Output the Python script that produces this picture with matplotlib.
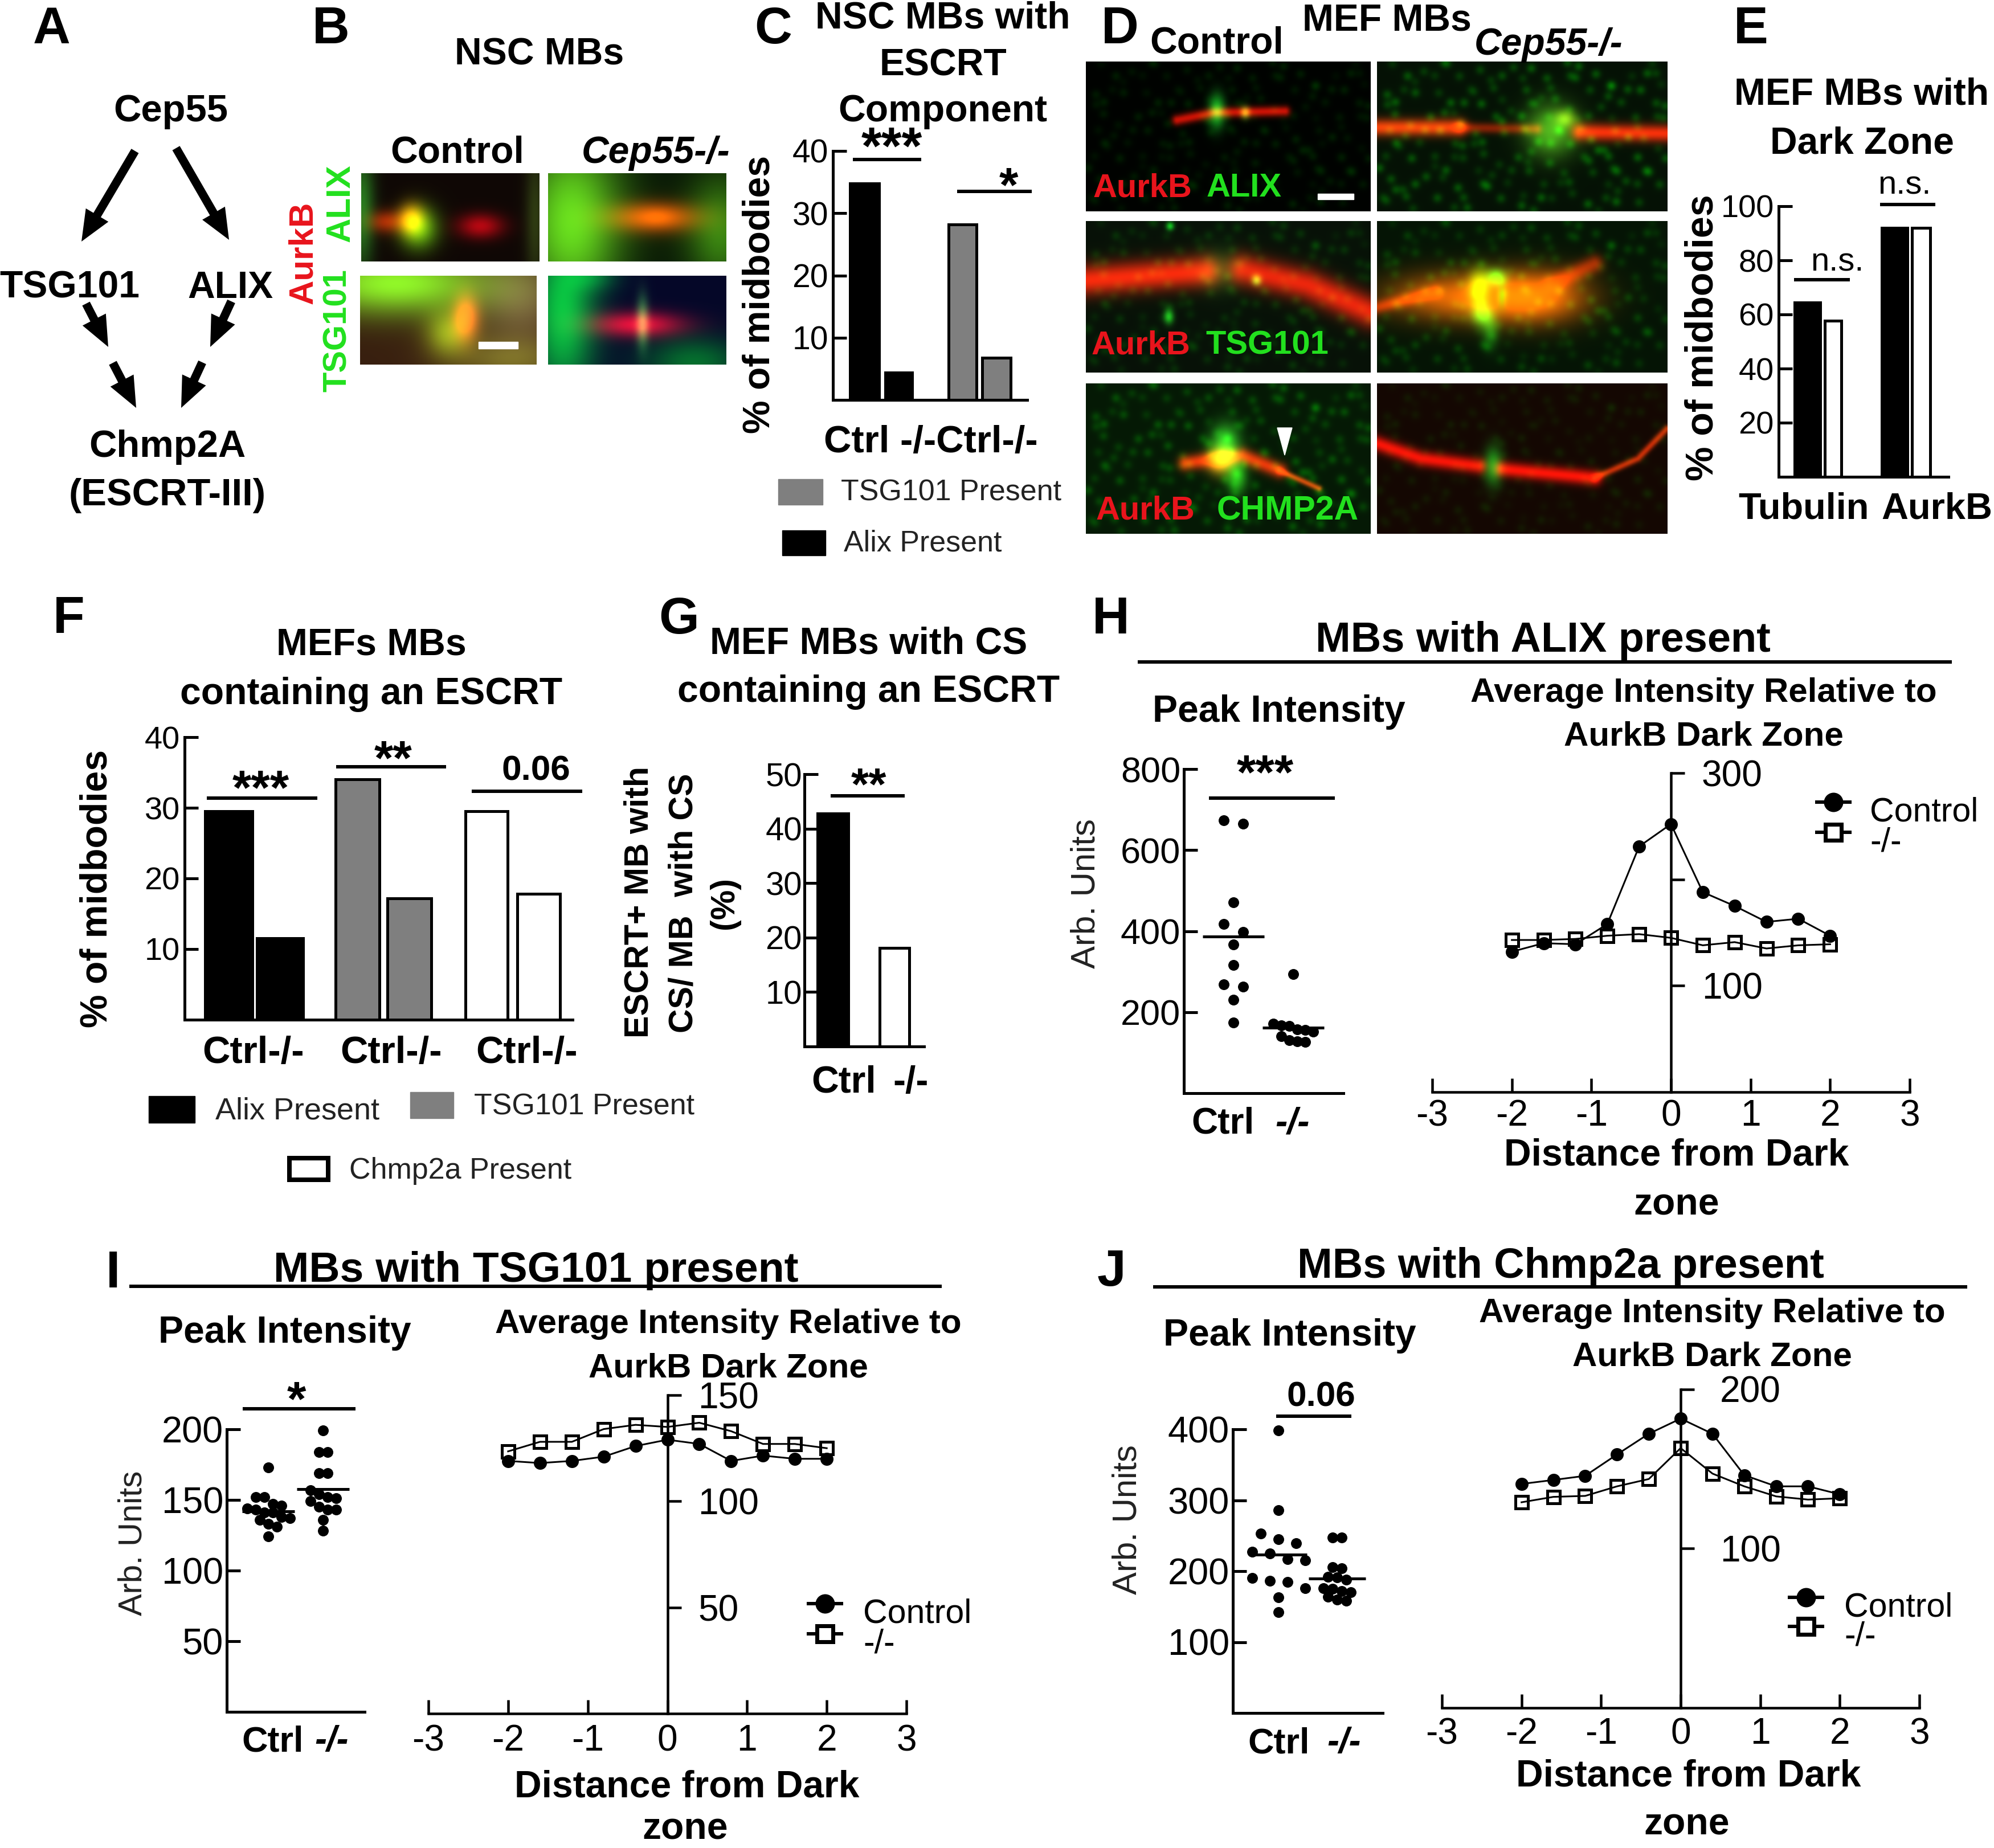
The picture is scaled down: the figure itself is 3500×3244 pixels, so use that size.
import numpy as np
import matplotlib
matplotlib.use("Agg")
import matplotlib.pyplot as plt
from matplotlib.patches import FancyArrow, Rectangle, Polygon

plt.rcParams['font.family'] = ['Liberation Sans', 'DejaVu Sans']
plt.rcParams['axes.unicode_minus'] = False
W, H = 3500, 3244
PX = 0.72  # px -> pt at dpi 100

# ---------------- data ----------------
c_vals = [34.8, 4.4, 28.2, 6.8]
e_vals = [64.4, 57.7, 91.9, 91.9]
f_vals = [29.5, 11.5, 34.0, 17.2, 29.5, 17.8]
g_vals = [42.8, 18.1]

dist = [-2, -1.6, -1.2, -0.8, -0.4, 0, 0.4, 0.8, 1.2, 1.6, 2]

h_ctrl_pts = [674, 665, 471, 418, 398, 367, 316, 268, 263, 230, 174]
h_ko_pts = [294, 171, 168, 166, 158, 156, 152, 141, 131, 128, 126]
h_means = [386, 161]
h_ctrl_line = [132, 140, 139, 158, 231, 252, 188, 175, 160, 163, 147]
h_ko_line = [143, 143, 144, 147, 148.5, 145, 138, 141, 135, 138, 139]

i_ctrl_pts = [173, 152, 152, 147, 146, 144, 143, 141, 141, 138, 137, 136, 133, 131, 124]
i_ko_pts = [199, 184, 184, 169, 169, 157, 154, 152, 151, 149, 145, 143, 143, 136, 128]
i_means = [142, 157.7]
i_ctrl_line = [119, 118, 119, 121, 126, 129, 127, 119, 121.5, 120, 120]
i_ko_line = [123.5, 128, 128, 134, 136, 135, 137, 133, 127, 127, 125]

j_ctrl_pts = [398, 286, 253, 245, 239, 227, 225, 217, 215, 190, 186, 185, 176, 163, 142]
j_ko_pts = [247, 247, 206, 204, 192, 191, 188, 176, 175, 172, 170, 164, 160, 158]
j_means = [223.5, 189.6]
j_ctrl_line = [140.5, 143, 145.6, 159, 172, 181.5, 172, 146, 139, 139, 134]
j_ko_line = [129, 132.4, 133, 139, 143.6, 163, 147, 139, 132.7, 130.7, 131.5]

GRAY = '#7f7f7f'
RED = '#e8141c'
GREEN = '#22e01e'

fig = plt.figure(figsize=(W / 100, H / 100), dpi=100, facecolor='white')
ov = fig.add_axes([0, 0, 1, 1], zorder=5)
ov.patch.set_alpha(0)
ov.axis('off')


def T(x, y, s, size=66, weight='bold', style='normal', color='black', rot=0, ha='center', va='center'):
    # x, y = visual centre of the capitals
    if rot:
        x += 0.06 * size
    else:
        y += 0.06 * size
    ov.text(x, y, s, fontsize=size * PX, fontweight=weight, fontstyle=style, color=color,
            rotation=rot, ha=ha, va=va, rotation_mode='anchor' if rot else 'default')


def STAR(x, y, s, size=86):
    ov.text(x, y + 0.19 * size, s, fontsize=size * PX, fontweight='bold', ha='center', va='center')


def L(x0, x1, y, lw=6):
    ov.plot([x0, x1], [y, y], color='black', lw=lw * PX, solid_capstyle='butt')


def box_axes(x0, x1, ytop, ybot, ylim, xlim=None):
    ax = fig.add_axes([x0 / W, 1 - ybot / H, (x1 - x0) / W, (ybot - ytop) / H], zorder=3)
    ax.patch.set_alpha(0)
    ax.set_xlim(xlim if xlim else (x0, x1))
    ax.set_ylim(*ylim)
    return ax


def style_y(ax, ticks, size, pad=8, lw=5):
    for s in ('top', 'right'):
        ax.spines[s].set_visible(False)
    for s in ('left', 'bottom'):
        ax.spines[s].set_linewidth(lw * PX)
    ax.set_xticks([])
    ax.set_yticks(ticks)
    ax.tick_params(axis='y', direction='in', length=24 * PX, width=lw * PX, pad=pad * PX, labelsize=size * PX)


def bars(ax, lefts, rights, vals, faces, lw=5):
    xs = [(a + b) / 2 for a, b in zip(lefts, rights)]
    ws = [b - a - lw for a, b in zip(lefts, rights)]
    ax.bar(xs, vals, width=ws, color=faces, edgecolor='black', linewidth=lw * PX, clip_on=False)


def swarm(vals, bin_size, dx):
    """Prism-style placement: values that share a bin are spread symmetrically."""
    v = sorted(vals, reverse=True)
    xs, ys, group = [], [], []

    def flush(g):
        n = len(g)
        for i, val in enumerate(g):
            xs.append((i - (n - 1) / 2) * dx)
            ys.append(val)
    for val in v:
        if group and group[0] - val >= bin_size:
            flush(group)
            group = []
        group.append(val)
    flush(group)
    return np.array(xs), np.array(ys)


def peak_panel(box, ylim, ticks, centers, ctrl, ko, means, bins, dxs, size, halfw=52):
    ax = box_axes(*box, ylim)
    style_y(ax, ticks, size, pad=6, lw=5)
    for c, pts, m, b, d in zip(centers, (ctrl, ko), means, bins, dxs):
        xo, yv = swarm(pts, b, d)
        ax.plot(c + xo, yv, 'o', color='black', ms=19 * PX, mew=0, clip_on=False)
        ax.plot([c - halfw, c + halfw], [m, m], color='black', lw=5 * PX, solid_capstyle='butt')
    return ax


def line_panel(box, ymax, yticks, ylabels, ctrl, ko, size=64, pad=30, xpad=8):
    ax = box_axes(box[0], box[1], box[2], box[3], (0, ymax), xlim=(-3, 3))
    ax.spines['top'].set_visible(False)
    ax.spines['left'].set_visible(False)
    ax.spines['right'].set_position(('data', 0))
    ax.spines['right'].set_linewidth(4.5 * PX)
    ax.spines['bottom'].set_linewidth(4.5 * PX)
    ax.set_xticks([-3, -2, -1, 0, 1, 2, 3])
    ax.tick_params(axis='x', direction='in', length=24 * PX, width=4.5 * PX, labelsize=size * PX, pad=xpad * PX)
    ax.yaxis.tick_right()
    ax.set_yticks(yticks)
    ax.set_yticklabels(ylabels)
    ax.tick_params(axis='y', direction='out', length=24 * PX, width=4.5 * PX, labelsize=size * PX, pad=pad * PX)
    ax.plot(dist, ctrl, '-o', color='black', lw=3 * PX, ms=23 * PX, mew=0, clip_on=False)
    ax.plot(dist, ko, '-s', color='black', lw=3 * PX, ms=22 * PX, mew=5 * PX, mfc='none', clip_on=False)
    return ax


def line_legend(x, y1, y2, tx):
    ov.plot([x - 32, x + 32], [y1, y1], color='black', lw=6 * PX, solid_capstyle='butt')
    ov.plot([x], [y1], 'o', color='black', ms=34 * PX, mew=0)
    ov.plot([x - 32, x + 32], [y2, y2], color='black', lw=6 * PX, solid_capstyle='butt')
    ov.plot([x], [y2], 's', mfc='white', mec='black', ms=28 * PX, mew=7 * PX)
    T(tx, y1 + 14, 'Control', size=59, weight='normal', ha='left')
    T(tx, y2 + 14, '-/-', size=59, weight='normal', ha='left')


# ---------------- micrograph helper (blurred stand-ins, deterministic) ----------------
def micrograph(box, bg, blobs=(), lines=(), speckle=0.0):
    x0, x1, y0, y1 = box
    nx, ny = int((x1 - x0) / 2), int((y1 - y0) / 2)
    asp = (x1 - x0) / (y1 - y0)
    X, Y = np.meshgrid(np.linspace(0, 1, nx), np.linspace(0, 1, ny))
    img = np.ones((ny, nx, 3)) * np.array(bg, float)
    for (cx, cy, sx, sy, col) in blobs:
        g = np.exp(-((X - cx) ** 2 / (2 * sx ** 2) + (Y - cy) ** 2 / (2 * sy ** 2)))
        img += g[..., None] * np.array(col, float)
    for pts, wid, col in lines:
        d = np.full(X.shape, 1e9)
        for (a, b), (c, e) in zip(pts[:-1], pts[1:]):
            ax_, ay_ = a * asp, b
            bx_, by_ = c * asp, e
            px_, py_ = X * asp, Y
            t = np.clip(((px_ - ax_) * (bx_ - ax_) + (py_ - ay_) * (by_ - ay_)) /
                        ((bx_ - ax_) ** 2 + (by_ - ay_) ** 2), 0, 1)
            d = np.minimum(d, np.hypot(px_ - ax_ - t * (bx_ - ax_), py_ - ay_ - t * (by_ - ay_)))
        img += np.exp(-d ** 2 / (2 * wid ** 2))[..., None] * np.array(col, float)
    if speckle:
        # soft dots on a low-discrepancy sequence
        tex = np.zeros(X.shape)
        for k in range(1, 170):
            cx = (k * 0.7548777 + 0.03 * np.sin(k * 1.7)) % 1
            cy = (k * 0.5698403 + 0.03 * np.sin(k * 2.3)) % 1
            amp = 0.35 + 0.65 * ((k * 0.6180339) % 1)
            tex += amp * np.exp(-((X - cx) ** 2 * asp ** 2 + (Y - cy) ** 2) / (2 * 0.022 ** 2))
        img[..., 1] += speckle * tex
    ov.imshow(np.clip(img, 0, 1), extent=(x0, x1, y1, y0), aspect='auto', interpolation='bilinear', zorder=0)


# Panel B images
micrograph((634, 947, 304, 459), (0.06, 0.03, 0.02),
           [(0.0, 0.4, 0.05, 0.5, (0.1, 0.45, 0.1)), (0.32, 0.62, 0.075, 0.17, (0.35, 0.75, 0.05)),
            (0.28, 0.52, 0.05, 0.12, (0.8, 0.4, 0.0)), (0.14, 0.55, 0.07, 0.09, (0.6, 0.12, 0.0)),
            (0.67, 0.6, 0.09, 0.1, (0.65, 0.0, 0.05)), (0.98, 0.5, 0.04, 0.6, (0.12, 0.2, 0.05))])
micrograph((962, 1275, 304, 459), (0.03, 0.08, 0.02),
           [(0.13, 0.55, 0.2, 0.7, (0.38, 0.8, 0.1)), (0.97, 0.65, 0.14, 0.45, (0.2, 0.45, 0.05)),
            (0.6, 0.5, 0.17, 0.12, (0.9, 0.22, 0.0)), (0.62, 0.5, 0.07, 0.08, (0.1, 0.1, 0.0))])
micrograph((632, 942, 484, 640), (0.22, 0.12, 0.06),
           [(0.2, 0.08, 0.38, 0.25, (0.35, 0.85, 0.1)), (0.92, 0.25, 0.18, 0.35, (0.25, 0.25, 0.18)),
            (0.85, 0.95, 0.25, 0.2, (0.25, 0.3, 0.08)), (0.5, 0.65, 0.09, 0.18, (0.35, 0.5, 0.05)),
            (0.6, 0.47, 0.05, 0.17, (0.8, 0.2, 0.05))])
micrograph((962, 1275, 484, 640), (0.02, 0.03, 0.16),
           [(0.08, 0.4, 0.13, 0.7, (0.02, 0.75, 0.1)), (0.25, 0.0, 0.1, 0.12, (0.0, 0.3, 0.05)),
            (0.82, 0.98, 0.2, 0.2, (0.0, 0.4, 0.02)), (0.5, 0.55, 0.18, 0.1, (0.9, 0.02, 0.08)),
            (0.53, 0.52, 0.025, 0.2, (0.2, 0.55, 0.15))])
ov.add_patch(Rectangle((840, 600), 69, 12, color='white', zorder=1))

# Panel D images
dbox = [(1906, 2406, 108, 371), (2417, 2927, 108, 371), (1906, 2406, 388, 654),
        (2417, 2927, 388, 654), (1906, 2406, 673, 937), (2417, 2927, 673, 937)]
micrograph(dbox[0], (0, 0.01, 0),
           [(0.46, 0.33, 0.02, 0.08, (0.1, 0.75, 0.15)), (0.56, 0.34, 0.012, 0.03, (0.3, 0.6, 0.1))],
           [([(0.32, 0.39), (0.45, 0.34), (0.7, 0.33)], 0.024, (0.8, 0.06, 0.02))], 0.1)
micrograph(dbox[1], (0.02, 0.07, 0.02),
           [(0.6, 0.46, 0.06, 0.12, (0.3, 0.65, 0.1)), (0.65, 0.38, 0.025, 0.04, (0.4, 0.5, 0.05))],
           [([(0.0, 0.44), (0.28, 0.44)], 0.04, (0.95, 0.2, 0.02)), ([(0.28, 0.44), (0.55, 0.45)], 0.025, (0.5, 0.06, 0.0)),
            ([(0.7, 0.47), (1.0, 0.48)], 0.04, (0.95, 0.12, 0.02))], 0.25)
micrograph(dbox[2], (0.03, 0.07, 0.03),
           [(0.47, 0.32, 0.05, 0.1, (0.05, 0.22, 0.05)), (0.6, 0.39, 0.012, 0.025, (0.2, 0.7, 0.1)),
            (0.295, 0.03, 0.01, 0.02, (0.05, 0.7, 0.1)), (0.29, 0.63, 0.012, 0.035, (0.1, 0.65, 0.1))],
           [([(0.0, 0.39), (0.42, 0.33)], 0.07, (0.95, 0.1, 0.02)), ([(0.55, 0.32), (0.78, 0.42), (1.0, 0.6)], 0.07, (0.9, 0.08, 0.02))], 0.12)
micrograph(dbox[3], (0.02, 0.08, 0.02),
           [(0.3, 0.5, 0.18, 0.11, (0.9, 0.35, 0.0)), (0.55, 0.5, 0.12, 0.12, (0.9, 0.35, 0.0)),
            (0.35, 0.43, 0.025, 0.08, (0.35, 0.7, 0.0)), (0.41, 0.37, 0.025, 0.04, (0.1, 0.75, 0.1)),
            (0.36, 0.62, 0.025, 0.05, (0.1, 0.7, 0.1)), (0.39, 0.72, 0.02, 0.08, (0.05, 0.4, 0.05)),
            (0.43, 0.5, 0.012, 0.05, (-0.4, 0.3, 0.0))],
           [([(0.0, 0.57), (0.2, 0.47)], 0.03, (0.6, 0.1, 0.0)), ([(0.6, 0.42), (0.75, 0.28)], 0.04, (0.6, 0.1, 0.0))], 0.15)
micrograph(dbox[4], (0.02, 0.1, 0.02),
           [(0.49, 0.4, 0.035, 0.09, (0.2, 0.75, 0.15)), (0.53, 0.62, 0.025, 0.08, (0.15, 0.65, 0.1)),
            (0.47, 0.52, 0.03, 0.06, (0.9, 0.55, 0.05))],
           [([(0.35, 0.53), (0.55, 0.48), (0.68, 0.58)], 0.035, (0.9, 0.12, 0.02)), ([(0.68, 0.58), (0.82, 0.7)], 0.014, (0.8, 0.2, 0.03))], 0.2)
micrograph(dbox[5], (0.08, 0.03, 0.01),
           [(0.4, 0.55, 0.022, 0.09, (0.05, 0.6, 0.1))],
           [([(0.0, 0.4), (0.15, 0.5), (0.35, 0.55)], 0.035, (0.9, 0.05, 0.02)), ([(0.43, 0.57), (0.75, 0.63)], 0.035, (0.92, 0.05, 0.02)),
            ([(0.75, 0.63), (0.9, 0.5), (1.0, 0.3)], 0.016, (0.7, 0.15, 0.02))], 0.07)
ov.add_patch(Rectangle((2313, 340), 63, 10, color='white', zorder=1))
ov.add_patch(Polygon([(2242, 751), (2268, 751), (2255, 799)], color='white', zorder=1))

# Panel letters
for s, x, y in [('A', 91, 47), ('B', 581, 47), ('C', 1357, 47), ('D', 1966, 47), ('E', 3073, 47),
                ('F', 121, 1082), ('G', 1192, 1083), ('H', 1950, 1083), ('I', 198, 2231), ('J', 1951, 2228)]:
    T(x, y, s, size=91)

# Panel A
T(300, 192, 'Cep55', size=67)
T(122, 502, 'TSG101', size=66)
T(404, 502, 'ALIX', size=66)
T(294, 781, 'Chmp2A', size=67)
T(294, 866, '(ESCRT-III)', size=67)
for (a, b), (c, d) in [((237, 265), (143, 424)), ((309, 260), (402, 421)), ((151, 533), (190, 609)),
                       ((406, 529), (369, 609)), ((198, 637), (239, 716)), ((355, 636), (318, 716))]:
    ov.add_patch(FancyArrow(a, b, c - a, d - b, width=15, head_width=46, head_length=54,
                            length_includes_head=True, color='black', lw=0))

# Panel B text
T(947, 93, 'NSC MBs', size=66)
T(803, 265, 'Control', size=66)
T(1151, 265, 'Cep55-/-', size=66, style='italic')
T(529, 444, 'AurkB', size=60, color=RED, rot=90)
T(594, 357, 'ALIX', size=60, color=GREEN, rot=90)
T(589, 580, 'TSG101', size=58, color=GREEN, rot=90)

# Panel C
for y, s in [(29, 'NSC MBs with'), (112, 'ESCRT'), (192, 'Component')]:
    T(1655, y, s, size=66)
axc = box_axes(1462, 1803, 265, 702, (0, 40))
style_y(axc, [10, 20, 30, 40], 57)
bars(axc, [1489, 1551, 1662, 1721], [1545, 1603, 1716, 1776], c_vals, ['black', 'black', GRAY, GRAY])
T(1330, 517, '% of midbodies', size=66, rot=90)
T(1634, 773, 'Ctrl -/-Ctrl-/-', size=67)
STAR(1565, 246, '***', 92)
L(1497, 1617, 280)
STAR(1770, 315, '*', 86)
L(1680, 1811, 336)
ov.add_patch(Rectangle((1366, 841), 78, 45, color=GRAY))
T(1476, 862, 'TSG101 Present', size=52, weight='normal', ha='left', color='#222222')
ov.add_patch(Rectangle((1373, 931), 76, 44, color='black'))
T(1481, 951, 'Alix Present', size=52, weight='normal', ha='left', color='#222222')

# Panel D text
T(2136, 73, 'Control', size=66)
T(2434, 33, 'MEF MBs', size=66)
T(2718, 75, 'Cep55-/-', size=66, style='italic')
T(1919, 327, 'AurkB', size=58, color=RED, ha='left')
T(2118, 327, 'ALIX', size=58, color=GREEN, ha='left')
T(1916, 603, 'AurkB', size=58, color=RED, ha='left')
T(2116, 603, 'TSG101', size=58, color=GREEN, ha='left')
T(1924, 893, 'AurkB', size=58, color=RED, ha='left')
T(2136, 893, 'CHMP2A', size=59, color=GREEN, ha='left')

# Panel E
T(3268, 163, 'MEF MBs with', size=66)
T(3268, 249, 'Dark Zone', size=66)
axe = box_axes(3122, 3420, 362, 837, (0, 100))
style_y(axe, [20, 40, 60, 80, 100], 56)
bars(axe, [3147, 3200, 3300, 3353], [3197, 3234, 3350, 3390], e_vals, ['black', 'white', 'black', 'white'])
T(2984, 593, '% of midbodies', size=68, rot=90)
T(3166, 890, 'Tubulin', size=65)
T(3400, 890, 'AurkB', size=65)
T(3225, 457, 'n.s.', size=58, weight='normal')
L(3149, 3247, 491)
T(3343, 322, 'n.s.', size=58, weight='normal')
L(3300, 3397, 359)

# Panel F
T(652, 1129, 'MEFs MBs', size=66)
T(652, 1215, 'containing an ESCRT', size=66)
axf = box_axes(324, 1005, 1294, 1790, (0, 40))
style_y(axf, [10, 20, 30, 40], 56)
bars(axf, [357, 448, 586, 677, 814, 905], [445, 534, 668, 759, 893, 985], f_vals,
     ['black', 'black', GRAY, GRAY, 'white', 'white'])
T(167, 1560, '% of midbodies', size=66, rot=90)
for x in (444, 687, 924):
    T(x, 1845, 'Ctrl-/-', size=67)
STAR(458, 1373, '***')
L(363, 557, 1401)
STAR(690, 1321, '**')
L(590, 783, 1346)
T(941, 1350, '0.06', size=62)
L(828, 1022, 1389)
ov.add_patch(Rectangle((261, 1924), 81, 47, color='black'))
T(378, 1947, 'Alix Present', size=54, weight='normal', ha='left', color='#222222')
ov.add_patch(Rectangle((720, 1917), 76, 46, color=GRAY))
T(832, 1940, 'TSG101 Present', size=52, weight='normal', ha='left', color='#222222')
ov.add_patch(Rectangle((508, 2033), 68, 38, facecolor='white', edgecolor='black', lw=8 * PX))
T(613, 2052, 'Chmp2a Present', size=52, weight='normal', ha='left', color='#222222')

# Panel G
T(1525, 1127, 'MEF MBs with CS', size=66)
T(1525, 1211, 'containing an ESCRT', size=66)
axg = box_axes(1412, 1622, 1359, 1837, (0, 50))
style_y(axg, [10, 20, 30, 40, 50], 58, pad=4)
bars(axg, [1433, 1542], [1492, 1599], g_vals, ['black', 'white'])
T(1118, 1584, 'ESCRT+ MB with', size=59, rot=90)
T(1196, 1585, 'CS/ MB  with CS', size=59, rot=90)
T(1268, 1585, '(%)', size=59, rot=90)
T(1481, 1897, 'Ctrl', size=66)
T(1599, 1897, '-/-', size=66)
STAR(1525, 1368, '**', 80)
L(1458, 1588, 1397)

# Panel H
T(2708, 1120, 'MBs with ALIX present', size=74)
L(1997, 3426, 1162)
T(2245, 1246, 'Peak Intensity', size=66)
peak_panel((2078, 2358, 1350, 1919), (0, 800), [200, 400, 600, 800], (2165, 2270), h_ctrl_pts, h_ko_pts,
           h_means, (25, 25), (34, 14), 63, halfw=54)
T(1902, 1569, 'Arb. Units', size=60, weight='normal', rot=90, color='#222222')
STAR(2221, 1346, '***')
L(2122, 2343, 1401)
T(2147, 1969, 'Ctrl', size=64)
T(2268, 1969, '-/-', size=64, style='italic')
T(2990, 1213, 'Average Intensity Relative to', size=60)
T(2990, 1289, 'AurkB Dark Zone', size=60)
line_panel((2514, 3352, 1357, 1917), 300, [100, 200, 300], ['100', '', '300'], h_ctrl_line, h_ko_line, xpad=12)
line_legend(3218, 1408, 1461, 3282)
T(2943, 2025, 'Distance from Dark', size=66)
T(2943, 2112, 'zone', size=66)

# Panel I
T(941, 2226, 'MBs with TSG101 present', size=75)
L(227, 1653, 2258)
T(500, 2336, 'Peak Intensity', size=66)
peak_panel((398, 640, 2509, 3004.5), (0, 200), [50, 100, 150, 200], (471, 567), i_ctrl_pts, i_ko_pts,
           i_means, (8, 8), (15, 15), 65, halfw=46)
T(230, 2709, 'Arb. Units', size=58, weight='normal', rot=90, color='#222222')
STAR(520, 2446, '*')
L(426, 624, 2473)
T(479, 3054, 'Ctrl', size=63)
T(582, 3054, '-/-', size=63, style='italic')
T(1278, 2321, 'Average Intensity Relative to', size=60)
T(1278, 2398, 'AurkB Dark Zone', size=60)
line_panel((752, 1591, 2449, 3008), 150, [50, 100, 150], ['50', '100', '150'], i_ctrl_line, i_ko_line, xpad=18)
line_legend(1448, 2815, 2868, 1515)
T(1206, 3134, 'Distance from Dark', size=66)
T(1203, 3208, 'zone', size=66)

# Panel J
T(2739, 2219, 'MBs with Chmp2a present', size=74)
L(2024, 3453, 2259)
T(2264, 2341, 'Peak Intensity', size=66)
peak_panel((2164, 2427, 2509, 3007), (0, 400), [100, 200, 300, 400], (2244, 2347), j_ctrl_pts, j_ko_pts,
           j_means, (15, 12), (31, 16), 65, halfw=50)
T(1975, 2668, 'Arb. Units', size=60, weight='normal', rot=90, color='#222222')
T(2319, 2449, '0.06', size=62)
L(2240, 2372, 2486)
T(2245, 3057, 'Ctrl', size=63)
T(2359, 3057, '-/-', size=63, style='italic')
T(3005, 2302, 'Average Intensity Relative to', size=60)
T(3005, 2378, 'AurkB Dark Zone', size=60)
line_panel((2531, 3369, 2438.5, 2998), 200, [100, 200], ['100', '200'], j_ctrl_line, j_ko_line, pad=45, xpad=16)
line_legend(3170, 2804, 2855, 3237)
T(2964, 3115, 'Distance from Dark', size=66)
T(2961, 3200, 'zone', size=66)

ov.set_xlim(0, W)
ov.set_ylim(H, 0)
fig.savefig('out.png', dpi=100, facecolor='white')
